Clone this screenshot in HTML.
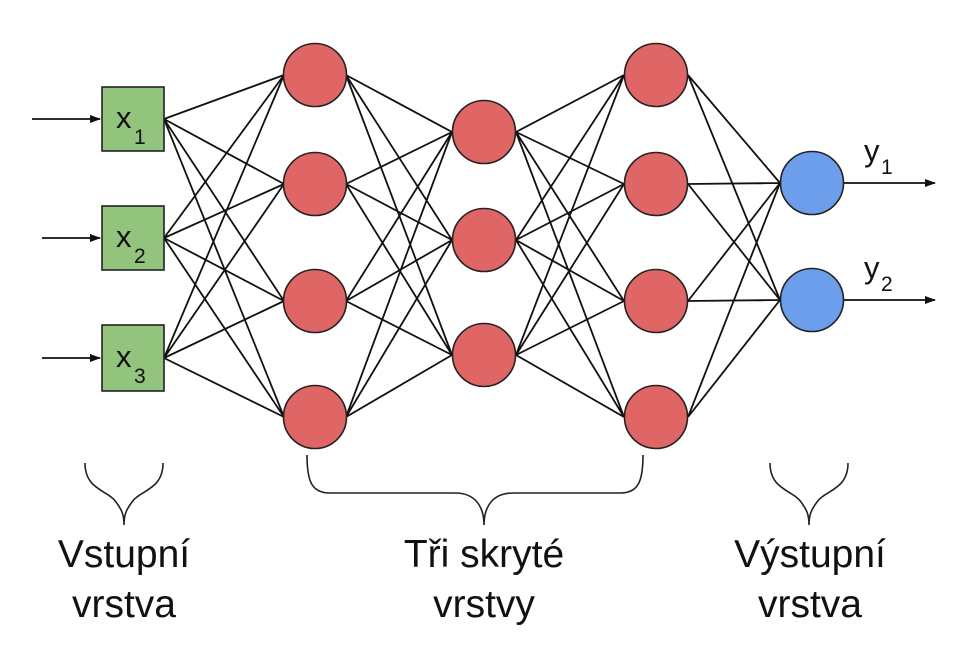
<!DOCTYPE html>
<html><head><meta charset="utf-8"><style>
html,body{margin:0;padding:0;background:#fff;}
svg{display:block;}
text{font-family:"Liberation Sans",Arial,sans-serif;fill:#111;}
</style></head><body>
<svg width="979" height="662" viewBox="0 0 979 662" xmlns="http://www.w3.org/2000/svg">
<defs><marker id="ar" markerWidth="11" markerHeight="8" refX="10" refY="4" orient="auto" markerUnits="userSpaceOnUse"><path d="M0,0 L11,4 L0,8 z" fill="#111"/></marker></defs>
<g stroke="#111" stroke-width="1.8" fill="none">
<line x1="32" y1="119" x2="100" y2="119" marker-end="url(#ar)"/>
<line x1="42" y1="238" x2="100" y2="238" marker-end="url(#ar)"/>
<line x1="42" y1="358" x2="100" y2="358" marker-end="url(#ar)"/>
<path d="M164,119L284,75M164,119L284,184M164,119L284,301M164,119L284,417
M164,238L284,75M164,238L284,184M164,238L284,301M164,238L284,417
M164,358L284,75M164,358L284,184M164,358L284,301M164,358L284,417"/>
<path d="M346,75L452,132M346,75L452,240M346,75L452,355
M346,184L452,132M346,184L452,240M346,184L452,355
M346,301L452,132M346,301L452,240M346,301L452,355
M346,417L452,132M346,417L452,240M346,417L452,355"/>
<path d="M516,132L624,75M516,132L624,184M516,132L624,301M516,132L624,417
M516,240L624,75M516,240L624,184M516,240L624,301M516,240L624,417
M516,355L624,75M516,355L624,184M516,355L624,301M516,355L624,417"/>
<path d="M688,75L780,183M688,75L780,300M688,184L780,183M688,184L780,300
M688,301L780,183M688,301L780,300M688,417L780,183M688,417L780,300"/>
<line x1="844" y1="183" x2="935" y2="183" marker-end="url(#ar)"/>
<line x1="844" y1="300" x2="935" y2="300" marker-end="url(#ar)"/>
</g>
<g stroke="#222" stroke-width="1.6">
<rect x="102" y="87" width="62" height="64" fill="#92c47d"/>
<rect x="102" y="206" width="62" height="64" fill="#92c47d"/>
<rect x="102" y="325" width="62" height="66" fill="#92c47d"/>
<g fill="#e06666">
<circle cx="315" cy="75" r="31.5"/><circle cx="315" cy="184" r="31.5"/><circle cx="315" cy="301" r="31.5"/><circle cx="315" cy="417" r="31.5"/>
<circle cx="484" cy="132" r="31.5"/><circle cx="484" cy="240" r="31.5"/><circle cx="484" cy="355" r="31.5"/>
<circle cx="656" cy="75" r="31.5"/><circle cx="656" cy="184" r="31.5"/><circle cx="656" cy="301" r="31.5"/><circle cx="656" cy="417" r="31.5"/>
</g>
<g fill="#6d9eeb"><circle cx="812" cy="183" r="31.5"/><circle cx="812" cy="300" r="31.5"/></g>
</g>
<g font-size="31">
<text x="116" y="128">x</text><text x="134" y="144" font-size="21">1</text>
<text x="116" y="247">x</text><text x="134" y="263" font-size="21">2</text>
<text x="116" y="367">x</text><text x="134" y="383" font-size="21">3</text>
<text x="864" y="161">y</text><text x="881" y="174" font-size="21">1</text>
<text x="864" y="278">y</text><text x="881" y="291" font-size="21">2</text>
</g>
<g stroke="#222" stroke-width="1.6" fill="none">
<path d="M85,463 C85,490 108,490 116,502 C122,510 124,515 124,525 C124,515 126,510 132,502 C140,490 163,490 163,463"/>
<path d="M770,463 C770,490 793,490 801,502 C807,510 809,515 809,525 C809,515 811,510 817,502 C825,490 848,490 848,463"/>
<path d="M307,455 C307,482 312,493 330,493 L455,493 C474,493 484,505 484,525 C484,505 494,493 513,493 L620,493 C638,493 643,482 643,455"/>
</g>
<g font-size="39" text-anchor="middle">
<text x="124" y="567">Vstupní</text><text x="124" y="617">vrstva</text>
<text x="484" y="567">Tři skryté</text><text x="484" y="617">vrstvy</text>
<text x="810" y="567">Výstupní</text><text x="810" y="617">vrstva</text>
</g>
</svg>
</body></html>
